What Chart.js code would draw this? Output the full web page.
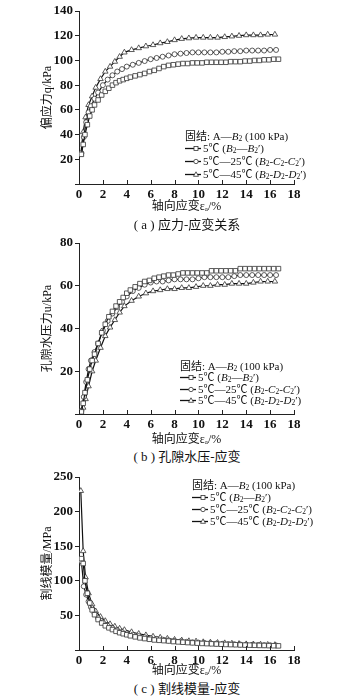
<!DOCTYPE html>
<html>
<head>
<meta charset="utf-8">
<script src="https://cdn.jsdelivr.net/npm/chart.js@4.4.1/dist/chart.umd.min.js"></script>
<style>
body { margin: 0; background: #fff; width: 360px; height: 697px; position: relative; overflow: hidden;
       font-family: "Liberation Serif", "Noto Sans CJK SC", serif; color: #111; }
.box { position: absolute; left: 0; width: 360px; height: 215px; }
.cap { position: absolute; left: 0; width: 374px; text-align: center; font-size: 13px; line-height: 16px; }
.legend { position: absolute; font-size: 11px; white-space: nowrap; }
.legend sub { font-size: 7.5px; vertical-align: -1px; line-height: 0; }
.legend svg { vertical-align: -1px; margin-right: 1px; }
</style>
</head>
<body>
<div class="box" style="top:0"><canvas id="chartA"></canvas></div>
<div class="box" style="top:232px"><canvas id="chartB"></canvas></div>
<div class="box" style="top:465px"><canvas id="chartC"></canvas></div>

<div class="legend" id="legA" style="left:185px;top:129.5px;line-height:12.7px"></div>
<div class="legend" id="legB" style="left:180px;top:360.5px;line-height:11.5px"></div>
<div class="legend" id="legC" style="left:192px;top:479px;line-height:12px"></div>

<div class="cap" style="top:217px">( a ) 应力-应变关系</div>
<div class="cap" style="top:449px">( b ) 孔隙水压-应变</div>
<div class="cap" style="top:681px">( c ) 割线模量-应变</div>

<script>
// strain (%) where the markers sit, one list per marker type
const strainSq = [0.2, 0.35, 0.5, 0.7, 0.9, 1.1, 1.3, 1.6, 1.9, 2.2, 2.5, 2.8, 3.1, 3.4, 3.7, 4.0,
  4.3, 4.7, 5.1, 5.5, 5.9, 6.3, 6.7, 7.1, 7.5, 7.9, 8.3, 8.7, 9.1, 9.5, 9.9, 10.3, 10.7, 11.1, 11.5, 11.9,
  12.3, 12.7, 13.1, 13.5, 13.9, 14.3, 14.7, 15.1, 15.5, 15.9, 16.3, 16.7];
const strainCi = [0.2, 0.4, 0.6, 0.8, 1.0, 1.3, 1.6, 2.0, 2.4, 2.8, 3.2, 3.6, 4.0,
  4.5, 5.0, 5.5, 6.0, 6.5, 7.0, 7.5, 8.0, 8.5, 9.0, 9.5, 10.0, 10.5, 11.0, 11.5, 12.0, 12.5, 13.0,
  13.5, 14.0, 14.5, 15.0, 15.5, 16.0, 16.5];
const strainTr = [0.15, 0.35, 0.55, 0.8, 1.1, 1.4, 1.8, 2.2, 2.6, 3.0, 3.4, 3.8,
  4.4, 5.0, 5.6, 6.2, 6.8, 7.4, 8.0, 8.6, 9.2, 9.8, 10.4, 11.0, 11.6, 12.2, 12.8, 13.4, 14.0, 14.6,
  15.2, 15.8, 16.4];

// (a) deviator stress q / kPa
const qSq = [24, 32, 40, 48, 55, 60, 64, 68, 72, 75, 77.5, 80, 82, 83.5, 84.5, 85.5,
  86.5, 87.5, 88.5, 89.5, 91, 92, 93.5, 95, 96, 96.5, 97, 97.5, 97.5, 98, 98, 98, 98.5, 98.5, 98.5, 98.5,
  98.5, 99, 99, 99, 99.5, 99.5, 100, 100, 100.5, 100.5, 101, 101];
const qCi = [25, 38, 50, 58, 63, 69, 74, 80, 84.5, 88, 91, 93, 95,
  96.5, 98, 99.5, 101, 102, 103, 104, 105, 105.5, 106, 106.5, 106.5, 106.5, 106.5, 106.5, 107, 107, 107.5,
  107.5, 108, 108, 108, 108, 108.5, 108.5];
const qTr = [24, 42, 54, 64, 71, 78, 85, 91, 95, 99, 103, 106.5,
  108.5, 110, 111.5, 112.5, 114, 115, 116.5, 117.5, 118, 118.5, 118.5, 118.5, 118.5, 119, 119.5, 120, 120.5, 120.5,
  120.5, 121, 121];

// (b) pore water pressure u / kPa
const uSq = [1, 5, 10, 16, 21, 25, 28, 33, 38, 42, 45.5, 48, 50.5, 52.5, 54.5, 56.5,
  58, 59.5, 61, 62, 62.5, 63.5, 64, 64.5, 65, 65, 65.5, 66, 66, 66, 66, 66, 66, 67, 67, 67,
  67, 67, 67, 68, 68, 68, 68, 68, 68, 68, 68, 68];
const uCi = [1.5, 8, 15, 21, 25, 29, 33, 39, 43.5, 47, 50, 52.5, 55,
  57.5, 59, 60.5, 61.5, 62, 62, 62.5, 63, 63, 63, 63, 63.5, 64, 64, 64, 64, 64, 64.5,
  65, 65, 65, 65, 65, 65, 65];
const uTr = [0.5, 3, 7, 13, 20, 25, 31, 36.5, 40.5, 44, 47.5, 50.5,
  53, 55, 56.5, 57.5, 58, 58.5, 58.5, 59, 59, 59.5, 60, 60, 60.5, 60.5, 61, 61, 61, 61.5,
  62, 62, 62];

// (c) secant modulus / MPa
const eSq = [132, 125, 100, 82, 68, 58, 51, 44, 39, 35, 32, 29.5, 27, 25, 23.5, 22,
  20.5, 19, 17.5, 16.5, 15.5, 14.5, 14, 13.5, 13, 12.2, 11.7, 11.2, 10.7, 10.3, 9.9, 9.5, 9.2, 8.9, 8.6, 8.3,
  8, 7.8, 7.6, 7.3, 7.1, 7, 6.8, 6.6, 6.5, 6.3, 6.2, 6];
const eCi = [128, 92, 80, 70, 62, 53, 46, 40, 35, 31.5, 28.5, 26, 24,
  22, 20, 18.5, 17, 16, 15, 14, 13, 12.4, 11.8, 11.2, 10.7, 10.2, 9.7, 9.3, 8.9, 8.6, 8.3,
  8, 7.7, 7.5, 7.2, 7, 6.8, 6.6];
const eTr = [230, 143, 105, 82, 66, 56, 48, 42, 37.5, 34, 31, 29,
  26, 23.5, 21.5, 19.5, 18, 16.5, 15, 14, 13, 12.5, 11.5, 11, 10.5, 10, 9.5, 9, 8.5, 8.3,
  8, 7.7, 7.4];

const legendHead = '固结: A—<i>B</i><sub>2</sub> (100 kPa)';
const seriesNames = [
  '5℃ (<i>B</i><sub>2</sub>—<i>B</i><sub>2</sub>′)',
  '5℃—25℃ (<i>B</i><sub>2</sub>-<i>C</i><sub>2</sub>-<i>C</i><sub>2</sub>′)',
  '5℃—45℃ (<i>B</i><sub>2</sub>-<i>D</i><sub>2</sub>-<i>D</i><sub>2</sub>′)'
];
const markerStyles = ['rect', 'circle', 'triangle'];

function pts(xs, ys) {
  return xs.map((x, i) => ({ x: x, y: ys[i] }));
}

function series(xs, ys, style) {
  return {
    data: pts(xs, ys),
    borderColor: '#111',
    borderWidth: 1.2,
    tension: 0,
    pointStyle: style,
    pointRadius: style === 'circle' ? 2.5 : 3.2,
    pointBackgroundColor: '#fff',
    pointBorderColor: '#333',
    pointBorderWidth: 0.8
  };
}

// x ticks point up into the plot
const innerTicks = {
  id: 'innerTicks',
  afterDraw(chart) {
    const ctx = chart.ctx, xs = chart.scales.x, b = chart.chartArea.bottom;
    ctx.save();
    ctx.strokeStyle = '#222';
    ctx.lineWidth = 1;
    xs.ticks.forEach(t => {
      const px = Math.round(xs.getPixelForValue(t.value)) + 0.5;
      ctx.beginPath();
      ctx.moveTo(px, b);
      ctx.lineTo(px, b - 4);
      ctx.stroke();
    });
    ctx.restore();
  }
};

function makeChart(id, datasets, yMax, yStep, yTitle, padTop, xH, titlePad) {
  const tickFont = { family: '"Liberation Serif", serif', size: 13, weight: 'bold' };
  const titleFont = { family: '"Liberation Serif", "Noto Sans CJK SC", serif', size: 12 };
  return new Chart(document.getElementById(id), {
    type: 'line',
    data: { datasets: datasets },
    plugins: [innerTicks],
    options: {
      responsive: true,
      maintainAspectRatio: false,
      animation: false,
      layout: { padding: { left: 41, top: padTop, right: 66, bottom: 0 } },
      plugins: { legend: { display: false }, tooltip: { enabled: false } },
      scales: {
        x: {
          type: 'linear', min: 0, max: 18,
          ticks: { stepSize: 2, color: '#111', font: tickFont, padding: 3, maxRotation: 0 },
          grid: { drawOnChartArea: false, drawTicks: false },
          border: { color: '#222', width: 1 },
          title: { display: true, text: '轴向应变εₐ/%', color: '#111', font: titleFont,
                   padding: { top: 0, bottom: titlePad } },
          afterFit: s => { s.height = xH; }
        },
        y: {
          type: 'linear', min: 0, max: yMax,
          ticks: { stepSize: yStep, color: '#111', font: tickFont, padding: 2,
                   callback: v => (v === 0 ? '' : v) },
          grid: { drawOnChartArea: false, drawTicks: true, tickLength: 4, color: '#222' },
          border: { color: '#222', width: 1 },
          title: { display: true, text: yTitle, color: '#111', font: titleFont, padding: 0 },
          afterFit: s => { s.width = 38; }
        }
      }
    }
  });
}

function buildLegend(id) {
  let html = '<div>' + legendHead + '</div>';
  seriesNames.forEach((name, i) => {
    let mk;
    if (markerStyles[i] === 'rect') mk = '<rect x="9" y="2.5" width="4" height="4" fill="#fff" stroke="#333" stroke-width="0.8"/>';
    else if (markerStyles[i] === 'circle') mk = '<circle cx="11" cy="4.5" r="2.2" fill="#fff" stroke="#333" stroke-width="0.8"/>';
    else mk = '<polygon points="11,1.8 13.5,6.3 8.5,6.3" fill="#fff" stroke="#333" stroke-width="0.8"/>';
    html += '<div><svg width="17" height="9"><line x1="0" y1="4.5" x2="16" y2="4.5" stroke="#111" stroke-width="1.3"/>' +
      mk + '</svg>' + name + '</div>';
  });
  document.getElementById(id).innerHTML = html;
}

makeChart('chartA', [
  series(strainSq, qSq, 'rect'),
  series(strainCi, qCi, 'circle'),
  series(strainTr, qTr, 'triangle')
], 140, 20, '偏应力q/kPa', 11, 31, 1);

makeChart('chartB', [
  series(strainSq, uSq, 'rect'),
  series(strainCi, uCi, 'circle'),
  series(strainTr, uTr, 'triangle')
], 80, 20, '孔隙水压力u/kPa', 11, 33, 0);

makeChart('chartC', [
  series(strainSq, eSq, 'rect'),
  series(strainCi, eCi, 'circle'),
  series(strainTr, eTr, 'triangle')
], 250, 50, '割线模量/MPa', 12, 30, 2);

buildLegend('legA');
buildLegend('legB');
buildLegend('legC');
</script>
</body>
</html>
